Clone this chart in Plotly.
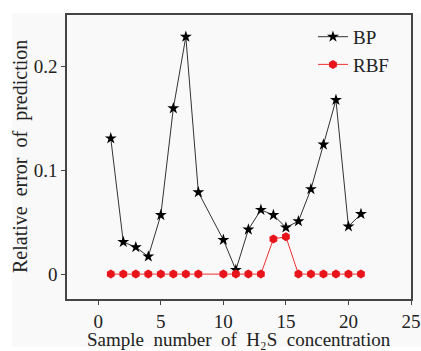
import plotly.graph_objects as go

bp_x = [1, 2, 3, 4, 5, 6, 7, 8, 10, 11, 12, 13, 14, 15, 16, 17, 18, 19, 20, 21]
bp_y = [0.131, 0.031, 0.026, 0.017, 0.057, 0.160, 0.229, 0.079, 0.033, 0.004,
        0.043, 0.062, 0.057, 0.045, 0.051, 0.082, 0.125, 0.168, 0.046, 0.058]
rbf_x = [1, 2, 3, 4, 5, 6, 7, 8, 10, 11, 12, 13, 14, 15, 16, 17, 18, 19, 20, 21]
rbf_y = [0, 0, 0, 0, 0, 0, 0, 0, 0, 0, 0, 0, 0.034, 0.036, 0, 0, 0, 0, 0, 0]

x_ticks = [0, 5, 10, 15, 20, 25]
y_ticks = [0, 0.1, 0.2]
y_tick_labels = ["0", "0.1", "0.2"]
x_title = "Sample  number  of  H\u2082S  concentration"
y_title = "Relative  error  of  prediction"

font_family = "Liberation Serif"
bg = "#f9f9f9"

fig = go.Figure()
fig.add_trace(go.Scatter(
    x=bp_x, y=bp_y, mode="lines+markers", name="BP",
    line=dict(color="#333333", width=1),
    marker=dict(symbol="star", size=9, color="black"),
))
fig.add_trace(go.Scatter(
    x=rbf_x, y=rbf_y, mode="lines+markers", name="RBF",
    line=dict(color="#f03030", width=1),
    marker=dict(symbol="hexagon", size=9, color="#e8141c"),
))

axis_common = dict(
    showline=True, linecolor="#444444", linewidth=1.5, mirror=True,
    ticks="outside", ticklen=4, tickwidth=1.2, tickcolor="#444444",
    showgrid=False, zeroline=False, automargin=False,
    tickfont=dict(family=font_family, size=19, color="#222222"),
)

fig.add_shape(type="rect", xref="paper", yref="paper",
              x0=-0.16, x1=1.05, y0=-0.169, y1=1.007,
              fillcolor=bg, line=dict(width=0), layer="below")

fig.add_annotation(text=x_title, xref="paper", yref="paper", x=0.5, y=0,
                   xanchor="center", yanchor="middle", yshift=-40,
                   showarrow=False, font=dict(family=font_family, size=19, color="#222222"))
fig.add_annotation(text=y_title, xref="paper", yref="paper", x=0, y=0.5,
                   xanchor="center", yanchor="middle", xshift=-47, textangle=-90,
                   showarrow=False, font=dict(family=font_family, size=20, color="#222222"))

fig.update_layout(
    width=421, height=351,
    margin=dict(l=67, r=10, t=15, b=52),
    paper_bgcolor="white", plot_bgcolor=bg,
    font=dict(family=font_family, size=19, color="#222222"),
    xaxis=dict(range=[-2.5, 25], tickvals=x_ticks, **axis_common),
    yaxis=dict(range=[-0.024, 0.25], tickvals=y_ticks, ticktext=y_tick_labels,
               **axis_common),
    legend=dict(x=0.715, y=0.99, xanchor="left", yanchor="top",
                bgcolor="rgba(0,0,0,0)", font=dict(family=font_family, size=19),
                itemwidth=30, tracegroupgap=0),
    showlegend=True,
)

fig.write_html("out.html")
